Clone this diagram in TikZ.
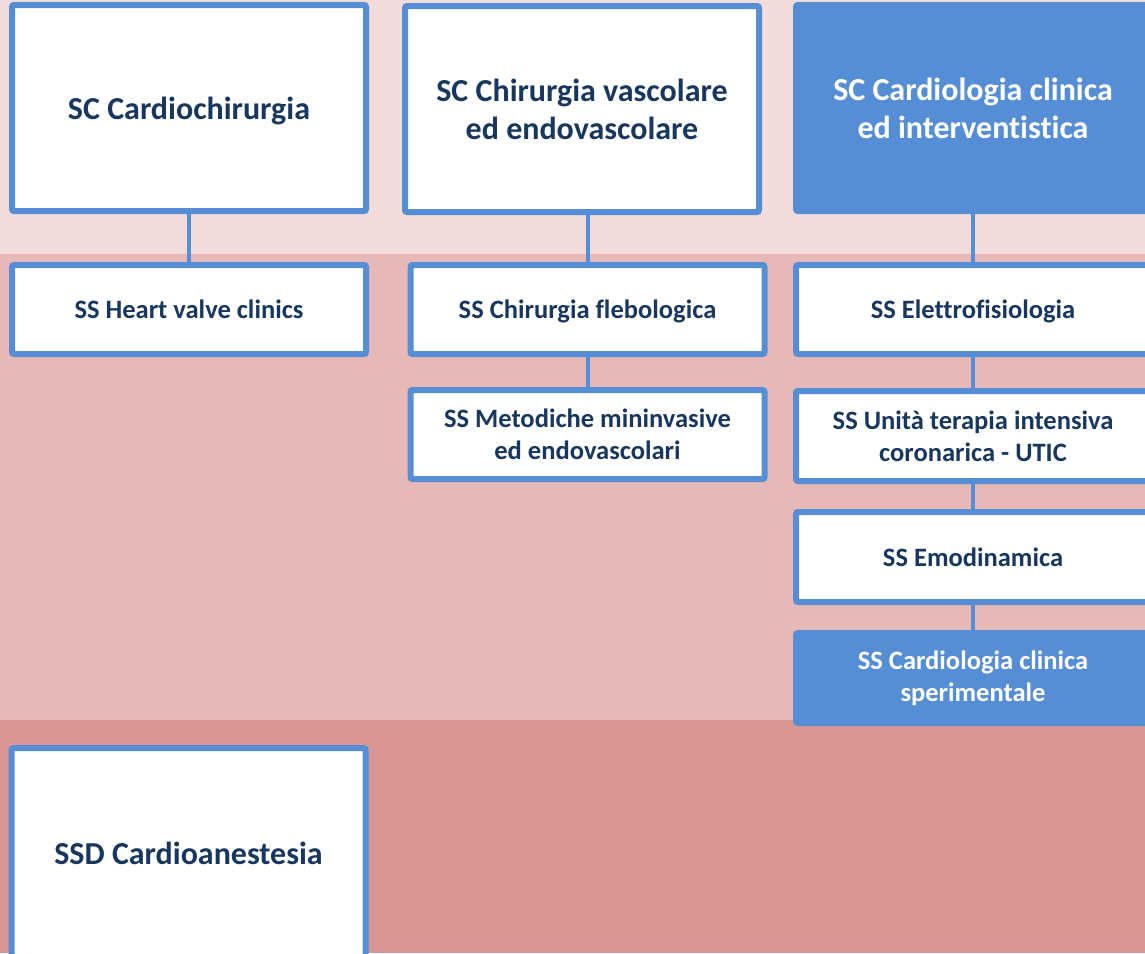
\documentclass[tikz,border=0pt]{standalone}
\usepackage{fontspec}
\setmainfont{Carlito}[Ligatures=NoCommon]
\definecolor{bandA}{HTML}{F2DCDB}
\definecolor{bandB}{HTML}{E6B9B8}
\definecolor{bandC}{HTML}{D99694}
\definecolor{boxblue}{HTML}{558ED5}
\definecolor{navy}{HTML}{17375E}
\begin{document}
\begin{tikzpicture}[x=0.75pt,y=-0.75pt,
  box/.style={draw=boxblue, line width=4.5pt, fill=white, rounded corners=1.5pt,
    align=center, text=navy, inner sep=0pt, minimum width=265.5pt, minimum height=66.75pt,
    font=\bfseries\fontsize{19.9}{24}\selectfont},
  bigbox/.style={box, minimum height=154.5pt, font=\bfseries\fontsize{24}{28.5}\selectfont},
  oneline/.style={text depth=0pt},
  filledbox/.style={fill=boxblue, text=white},
  link/.style={draw=boxblue, line width=3pt}]
\useasboundingbox (0,0) rectangle (1145,953);
\clip (0,0) rectangle (1145,953);
% bands
\fill[bandA] (0,0) rectangle (1145,254);
\fill[bandB] (0,254) rectangle (1145,720);
\fill[bandC] (0,720) rectangle (1145,953);
% top level
\node[bigbox, oneline] (a1) at (189,108) {SC Cardiochirurgia};
\node[bigbox] (a2) at (582,109) {SC Chirurgia vascolare\\ed endovascolare};
\node[bigbox, filledbox] (a3) at (973,108) {SC Cardiologia clinica\\ed interventistica};
% second level
\node[box, oneline] (b1) at (189,309.5) {SS Heart valve clinics};
\node[box, oneline] (b2) at (587.5,309.5) {SS Chirurgia flebologica};
\node[box] (c2) at (587.5,434.5) {SS Metodiche mininvasive\\ed endovascolari};
\node[box, oneline] (b3) at (973,309.5) {SS Elettrofisiologia};
\node[box, minimum height=67.5pt] (c3) at (973,436) {SS Unità terapia intensiva\\coronarica - UTIC};
\node[box, oneline, minimum height=67.5pt] (d3) at (973,557) {SS Emodinamica};
\node[box, filledbox, minimum height=67.5pt] (e3) at (973,678) {SS Cardiologia clinica\\sperimentale};
% SSD
\node[bigbox, oneline, minimum height=157.5pt] (s1) at (188.5,853) {SSD Cardioanestesia};
% connectors
\draw[link] (b1.north) -- (b1.north |- a1.south);
\draw[link] (b2.north) -- (b2.north |- a2.south);
\draw[link] (c2.north) -- (c2.north |- b2.south);
\draw[link] (b3.north) -- (b3.north |- a3.south);
\draw[link] (c3.north) -- (c3.north |- b3.south);
\draw[link] (d3.north) -- (d3.north |- c3.south);
\draw[link] (e3.north) -- (e3.north |- d3.south);
\end{tikzpicture}
\end{document}
